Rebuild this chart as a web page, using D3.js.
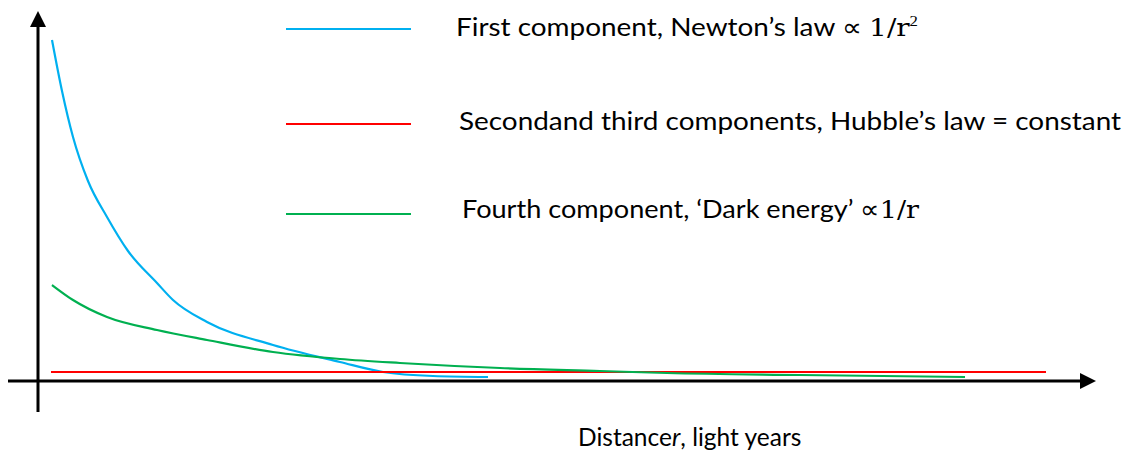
<!DOCTYPE html>
<html>
<head>
<meta charset="utf-8">
<script src="https://cdn.jsdelivr.net/npm/d3@7"></script>
<style>
  body { margin: 0; background: #fff; }
  text { font-family: Lato, "Open Sans", sans-serif; fill: #000; }
</style>
</head>
<body>
<svg id="chart" width="1128" height="459"></svg>
<script>
// distance r (arbitrary units) and the value read for each component
var newtonR   = [1.4, 2.4, 3.5, 5.0, 6.9, 9.0, 11.9, 13.5, 16.9, 23.5, 30.2, 34.5, 39.5, 45.0];
var newtonVal = [34.1, 29.0, 24.4, 20.0, 16.4, 13.0, 9.8, 8.1, 5.9, 3.6, 1.9, 0.9, 0.5, 0.4];

var hubbleR   = [1.3, 100.8];
var hubbleVal = [0.9, 0.9];

var darkR     = [1.4, 3.5, 6.9, 11.9, 16.9, 23.5, 30.2, 36.2, 46.2, 56.2, 62.9, 76.2, 92.7];
var darkVal   = [9.6, 8.1, 6.4, 5.1, 4.1, 2.9, 2.2, 1.8, 1.3, 1.0, 0.8, 0.6, 0.4];

var legendLabels = [
  {name: "First component, Newton’s law ∝  ", math: "1/r", sup: "2"},
  {name: "Secondand third components, Hubble’s law  =  constant", math: "", sup: ""},
  {name: "Fourth component, ‘Dark energy’ ∝", math: "1/r", sup: ""}
];
var axisTitle = ["Distance", "r", ", light years"];

var svg = d3.select("#chart");

// one unit = 10px on both axes
var x = d3.scaleLinear().domain([0, 106]).range([38, 1098]);
var y = d3.scaleLinear().domain([0, 37]).range([381, 11]);

var series = [
  {r: newtonR, v: newtonVal, color: "#00B0F0"},
  {r: hubbleR, v: hubbleVal, color: "#FF0000"},
  {r: darkR,   v: darkVal,   color: "#00B050"}
];

var line = d3.line()
    .x(function(d) { return x(d[0]); })
    .y(function(d) { return y(d[1]); })
    .curve(d3.curveMonotoneX);

// curves
svg.append("g").selectAll("path")
  .data(series)
  .enter().append("path")
    .attr("d", function(s) { return line(d3.zip(s.r, s.v)); })
    .attr("fill", "none")
    .attr("stroke", function(s) { return s.color; })
    .attr("stroke-width", 2.2);

// AXES with arrow heads
var axes = svg.append("g").attr("stroke", "#000").attr("stroke-width", 3);
axes.append("line")
    .attr("x1", x(-3)).attr("x2", x(104.2))
    .attr("y1", y(0)).attr("y2", y(0));
axes.append("line")
    .attr("x1", x(0)).attr("x2", x(0))
    .attr("y1", y(-3.1)).attr("y2", y(35.4));

svg.append("path")
    .attr("d", "M" + x(104.2) + "," + (y(0) - 8) + "L" + x(105.8) + "," + y(0) + "L" + x(104.2) + "," + (y(0) + 8) + "Z")
    .attr("fill", "#000");
svg.append("path")
    .attr("d", "M" + (x(0) - 8) + "," + y(35.4) + "L" + x(0) + "," + y(37) + "L" + (x(0) + 8) + "," + y(35.4) + "Z")
    .attr("fill", "#000");

// LEGEND
var legendY = [29, 124, 214];
var legend = svg.append("g").selectAll("g")
  .data(series)
  .enter().append("g");

legend.append("line")
    .attr("x1", 286).attr("x2", 411)
    .attr("y1", function(d, i) { return legendY[i]; })
    .attr("y2", function(d, i) { return legendY[i]; })
    .attr("stroke", function(d) { return d.color; })
    .attr("stroke-width", 2);

var textX = [456, 459, 462];
var textW = [462, 662, 457];
var textBase = [36, 130, 218];

legend.append("text")
    .attr("x", function(d, i) { return textX[i]; })
    .attr("y", function(d, i) { return textBase[i]; })
    .attr("font-size", 25)
    .attr("textLength", function(d, i) { return textW[i]; })
    .attr("lengthAdjust", "spacingAndGlyphs")
    .each(function(d, i) {
      var t = d3.select(this), lab = legendLabels[i];
      t.append("tspan").text(lab.name);
      if (lab.math) {
        t.append("tspan")
          .style("font-family", "'DejaVu Serif', 'Liberation Serif', serif")
          .attr("font-size", 25)
          .text(lab.math);
      }
      if (lab.sup) {
        t.append("tspan")
          .style("font-family", "'Liberation Serif', serif")
          .attr("font-size", 15)
          .attr("dy", -10)
          .text(lab.sup);
      }
    });

// axis title
var title = svg.append("text")
    .attr("x", 578)
    .attr("y", 446)
    .attr("font-size", 24.5);
title.append("tspan").text(axisTitle[0]);
title.append("tspan").attr("font-style", "italic").text(axisTitle[1]);
title.append("tspan").text(axisTitle[2]);
</script>
</body>
</html>
